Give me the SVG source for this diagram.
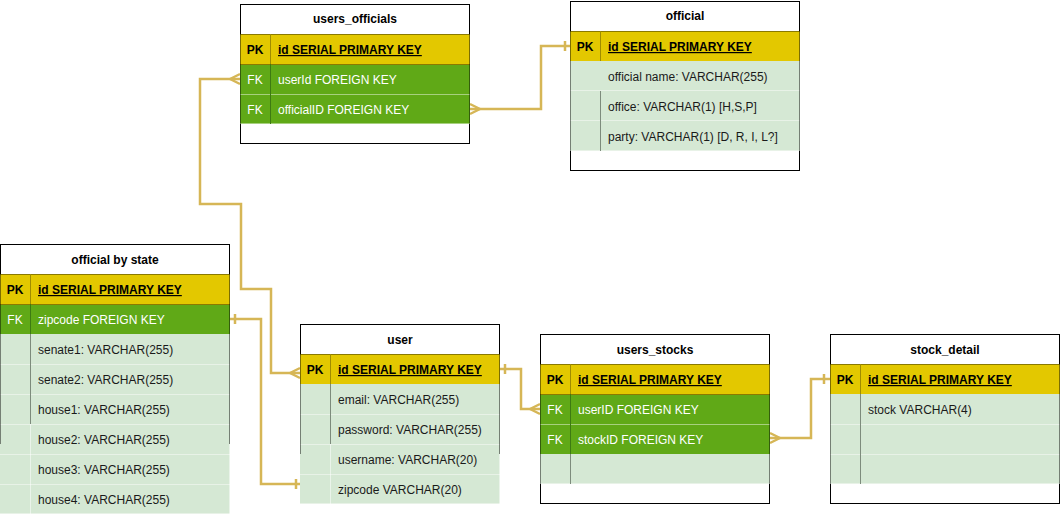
<svg xmlns="http://www.w3.org/2000/svg" width="1061" height="515" viewBox="0 0 1061 515">
<style>
text{font-family:"Liberation Sans",Arial,Helvetica,sans-serif;font-size:12px;}
.hdr{font-weight:bold;text-anchor:middle;fill:#000;}
.box{fill:#fff;stroke:#000;stroke-width:1;}
.pk{fill:#e3c800;}
.fk{fill:#60a917;}
.lt{fill:#d5e8d4;}
.pkt{font-weight:bold;fill:#000;}
.pkn{font-weight:bold;fill:#000;text-decoration:underline;}
.fkt{fill:#fff;}
.ltt{fill:#1a1a1a;}
.kc{text-anchor:middle;}
.sep{stroke:#fff;stroke-opacity:0.45;stroke-width:1;}
.top{stroke:#8a7a00;stroke-width:1;}
.dpk{stroke:#a08c00;stroke-width:1;}
.dfk{stroke:#3d7a12;stroke-width:1;}
.dlt{stroke:#7d8b7c;stroke-width:1;}
.dout{stroke:#fff;stroke-opacity:0.5;stroke-width:1;}
.edge{stroke:#000;stroke-opacity:0.45;stroke-width:1;}
.conn{fill:none;stroke:#d6b656;stroke-width:2.5;}
</style>

<g id="connectors">
  <path class="conn" d="M240,79 H200 V204 H241 V289 H271 V373 H300"/>
  <path class="conn" d="M230,79 L240,74 M230,79 L240,84"/>
  <path class="conn" d="M290,373 L300,368 M290,373 L300,378"/>

  <path class="conn" d="M230,319 H261 V484 H300"/>
  <path class="conn" d="M235,314 V324 M296,479 V489"/>

  <path class="conn" d="M470,109 H541 V46 H570"/>
  <path class="conn" d="M480,109 L470,104 M480,109 L470,114"/>
  <path class="conn" d="M565,41 V51"/>

  <path class="conn" d="M500,369 H521 V409 H540"/>
  <path class="conn" d="M505,364 V374"/>
  <path class="conn" d="M530,409 L540,404 M530,409 L540,414"/>

  <path class="conn" d="M770,438 H811 V379 H830"/>
  <path class="conn" d="M780,438 L770,433 M780,438 L770,443"/>
  <path class="conn" d="M824,374 V384"/>
</g>

<g id="users_officials">
  <rect class="box" x="240.5" y="4.5" width="229" height="139"/>
  <text class="hdr" x="355" y="23">users_officials</text>
  <rect class="pk" x="240" y="34" width="230" height="30"/>
  <rect class="fk" x="240" y="64" width="230" height="30"/>
  <rect class="fk" x="240" y="94" width="230" height="30"/>
  <line class="top" x1="240" y1="34.5" x2="470" y2="34.5"/>
  <line class="top" x1="240" y1="64.5" x2="470" y2="64.5"/>
  <line class="sep" x1="240" y1="94.5" x2="470" y2="94.5"/>
  <line class="sep" x1="240" y1="123.5" x2="470" y2="123.5"/>
  <line class="dpk" x1="270.5" y1="34" x2="270.5" y2="64"/>
  <line class="dfk" x1="270.5" y1="64" x2="270.5" y2="124"/>
  <line class="edge" x1="240.5" y1="34" x2="240.5" y2="124"/>
  <line class="edge" x1="469.5" y1="34" x2="469.5" y2="124"/>
  <text class="pkt kc" x="255" y="54">PK</text>
  <text class="pkn" x="278" y="54">id SERIAL PRIMARY KEY</text>
  <text class="fkt kc" x="255" y="84">FK</text>
  <text class="fkt" x="278" y="84">userId FOREIGN KEY</text>
  <text class="fkt kc" x="255" y="114">FK</text>
  <text class="fkt" x="278" y="114">officialID FOREIGN KEY</text>
</g>

<g id="official">
  <rect class="box" x="570.5" y="1.5" width="229" height="169"/>
  <text class="hdr" x="685" y="20">official</text>
  <rect class="pk" x="570" y="31" width="230" height="30"/>
  <rect class="lt" x="570" y="61" width="230" height="90"/>
  <line class="top" x1="570" y1="31.5" x2="800" y2="31.5"/>
  <line class="sep" x1="570" y1="90.5" x2="800" y2="90.5"/>
  <line class="sep" x1="570" y1="120.5" x2="800" y2="120.5"/>
  <line class="sep" x1="570" y1="150.5" x2="800" y2="150.5"/>
  <line class="dpk" x1="600.5" y1="31" x2="600.5" y2="61"/>
  <line class="dlt" x1="600.5" y1="91" x2="600.5" y2="151"/>
  <line class="edge" x1="570.5" y1="31" x2="570.5" y2="151"/>
  <line class="edge" x1="799.5" y1="31" x2="799.5" y2="151"/>
  <text class="pkt kc" x="585" y="51">PK</text>
  <text class="pkn" x="608" y="51">id SERIAL PRIMARY KEY</text>
  <text class="ltt" x="608" y="81">official name: VARCHAR(255)</text>
  <text class="ltt" x="608" y="111">office: VARCHAR(1) [H,S,P]</text>
  <text class="ltt" x="608" y="141">party: VARCHAR(1) [D, R, I, L?]</text>
</g>

<g id="official_by_state">
  <rect class="box" x="0.5" y="244.5" width="229" height="199"/>
  <text class="hdr" x="115" y="264">official by state</text>
  <rect class="pk" x="0" y="274" width="230" height="30"/>
  <rect class="fk" x="0" y="304" width="230" height="30"/>
  <rect class="lt" x="0" y="334" width="230" height="180"/>
  <line class="top" x1="0" y1="274.5" x2="230" y2="274.5"/>
  <line class="top" x1="0" y1="304.5" x2="230" y2="304.5"/>
  <line class="sep" x1="0" y1="364.5" x2="230" y2="364.5"/>
  <line class="sep" x1="0" y1="394.5" x2="230" y2="394.5"/>
  <line class="sep" x1="0" y1="424.5" x2="230" y2="424.5"/>
  <line class="sep" x1="0" y1="454.5" x2="230" y2="454.5"/>
  <line class="sep" x1="0" y1="484.5" x2="230" y2="484.5"/>
  <line class="sep" x1="0" y1="513.5" x2="230" y2="513.5"/>
  <line class="dpk" x1="30.5" y1="274" x2="30.5" y2="304"/>
  <line class="dfk" x1="30.5" y1="304" x2="30.5" y2="334"/>
  <line class="dlt" x1="30.5" y1="334" x2="30.5" y2="424"/>
  <line class="dout" x1="30.5" y1="424" x2="30.5" y2="514"/>
  <line class="edge" x1="0.5" y1="274" x2="0.5" y2="444"/>
  <line class="edge" x1="229.5" y1="274" x2="229.5" y2="444"/>
  <line class="dout" x1="229.5" y1="444" x2="229.5" y2="514"/>
  <text class="pkt kc" x="15" y="294">PK</text>
  <text class="pkn" x="38" y="294">id SERIAL PRIMARY KEY</text>
  <text class="fkt kc" x="15" y="324">FK</text>
  <text class="fkt" x="38" y="324">zipcode FOREIGN KEY</text>
  <text class="ltt" x="38" y="354">senate1: VARCHAR(255)</text>
  <text class="ltt" x="38" y="384">senate2: VARCHAR(255)</text>
  <text class="ltt" x="38" y="414">house1: VARCHAR(255)</text>
  <text class="ltt" x="38" y="444">house2: VARCHAR(255)</text>
  <text class="ltt" x="38" y="474">house3: VARCHAR(255)</text>
  <text class="ltt" x="38" y="504">house4: VARCHAR(255)</text>
</g>

<g id="user">
  <rect class="box" x="300.5" y="324.5" width="199" height="129"/>
  <text class="hdr" x="400" y="344">user</text>
  <rect class="pk" x="300" y="354" width="200" height="30"/>
  <rect class="lt" x="300" y="384" width="200" height="120"/>
  <line class="top" x1="300" y1="354.5" x2="500" y2="354.5"/>
  <line class="sep" x1="300" y1="414.5" x2="500" y2="414.5"/>
  <line class="sep" x1="300" y1="444.5" x2="500" y2="444.5"/>
  <line class="sep" x1="300" y1="474.5" x2="500" y2="474.5"/>
  <line class="sep" x1="300" y1="503.5" x2="500" y2="503.5"/>
  <line class="dpk" x1="330.5" y1="354" x2="330.5" y2="384"/>
  <line class="dlt" x1="330.5" y1="384" x2="330.5" y2="444"/>
  <line class="dout" x1="330.5" y1="444" x2="330.5" y2="504"/>
  <line class="edge" x1="300.5" y1="354" x2="300.5" y2="454"/>
  <line class="edge" x1="499.5" y1="354" x2="499.5" y2="454"/>
  <line class="dout" x1="499.5" y1="454" x2="499.5" y2="504"/>
  <text class="pkt kc" x="315" y="374">PK</text>
  <text class="pkn" x="338" y="374">id SERIAL PRIMARY KEY</text>
  <text class="ltt" x="338" y="404">email: VARCHAR(255)</text>
  <text class="ltt" x="338" y="434">password: VARCHAR(255)</text>
  <text class="ltt" x="338" y="464">username: VARCHAR(20)</text>
  <text class="ltt" x="338" y="494">zipcode VARCHAR(20)</text>
</g>

<g id="users_stocks">
  <rect class="box" x="540.5" y="334.5" width="229" height="169"/>
  <text class="hdr" x="655" y="354">users_stocks</text>
  <rect class="pk" x="540" y="364" width="230" height="30"/>
  <rect class="fk" x="540" y="394" width="230" height="60"/>
  <rect class="lt" x="540" y="454" width="230" height="30"/>
  <line class="top" x1="540" y1="364.5" x2="770" y2="364.5"/>
  <line class="top" x1="540" y1="394.5" x2="770" y2="394.5"/>
  <line class="sep" x1="540" y1="424.5" x2="770" y2="424.5"/>
  <line class="sep" x1="540" y1="483.5" x2="770" y2="483.5"/>
  <line class="dpk" x1="570.5" y1="364" x2="570.5" y2="394"/>
  <line class="dfk" x1="570.5" y1="394" x2="570.5" y2="454"/>
  <line class="dlt" x1="570.5" y1="454" x2="570.5" y2="484"/>
  <line class="edge" x1="540.5" y1="364" x2="540.5" y2="484"/>
  <line class="edge" x1="769.5" y1="364" x2="769.5" y2="484"/>
  <text class="pkt kc" x="555" y="384">PK</text>
  <text class="pkn" x="578" y="384">id SERIAL PRIMARY KEY</text>
  <text class="fkt kc" x="555" y="414">FK</text>
  <text class="fkt" x="578" y="414">userID FOREIGN KEY</text>
  <text class="fkt kc" x="555" y="444">FK</text>
  <text class="fkt" x="578" y="444">stockID FOREIGN KEY</text>
</g>

<g id="stock_detail">
  <rect class="box" x="830.5" y="334.5" width="229" height="169"/>
  <text class="hdr" x="945" y="354">stock_detail</text>
  <rect class="pk" x="830" y="364" width="230" height="30"/>
  <rect class="lt" x="830" y="394" width="230" height="90"/>
  <line class="top" x1="830" y1="364.5" x2="1060" y2="364.5"/>
  <line class="sep" x1="830" y1="424.5" x2="1060" y2="424.5"/>
  <line class="sep" x1="830" y1="454.5" x2="1060" y2="454.5"/>
  <line class="sep" x1="830" y1="483.5" x2="1060" y2="483.5"/>
  <line class="dpk" x1="860.5" y1="364" x2="860.5" y2="394"/>
  <line class="dlt" x1="860.5" y1="394" x2="860.5" y2="484"/>
  <line class="edge" x1="830.5" y1="364" x2="830.5" y2="484"/>
  <line class="edge" x1="1059.5" y1="364" x2="1059.5" y2="484"/>
  <text class="pkt kc" x="845" y="384">PK</text>
  <text class="pkn" x="868" y="384">id SERIAL PRIMARY KEY</text>
  <text class="ltt" x="868" y="414">stock VARCHAR(4)</text>
</g>
</svg>
